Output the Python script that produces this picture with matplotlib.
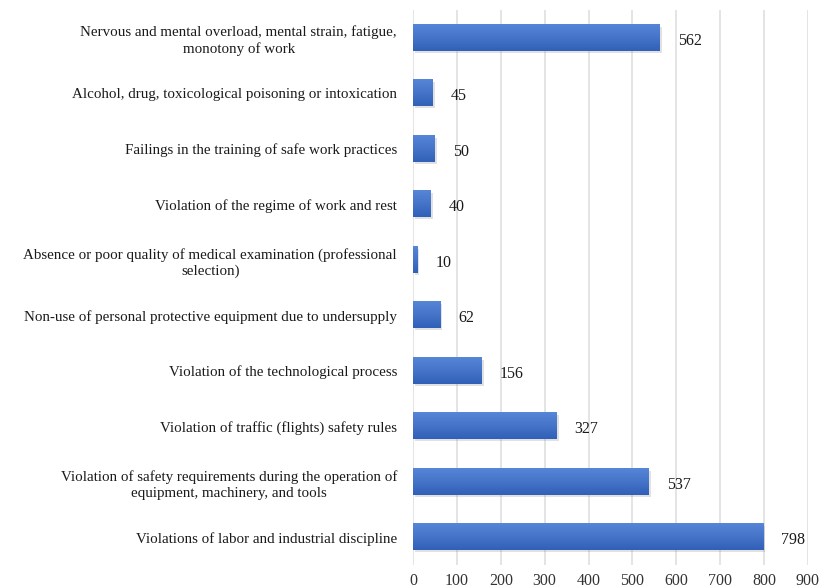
import numpy as np
import matplotlib.pyplot as plt
import matplotlib.patheffects as pe
from matplotlib.colors import LinearSegmentedColormap

# causes listed from top to bottom as in the chart
causes = [
    "Nervous and mental overload, mental strain, fatigue,\nmonotony of work",
    "Alcohol, drug, toxicological poisoning or intoxication",
    "Failings in the training of safe work practices",
    "Violation of the regime of work and rest",
    "Absence or poor quality of medical examination (professional\nselection)",
    "Non-use of personal protective equipment due to undersupply",
    "Violation of the technological process",
    "Violation of traffic (flights) safety rules",
    "Violation of safety requirements during the operation of\nequipment, machinery, and tools",
    "Violations of labor and industrial discipline",
]
counts = [562, 45, 50, 40, 10, 62, 156, 327, 537, 798]
xticks = [0, 100, 200, 300, 400, 500, 600, 700, 800, 900]

plt.rcParams['font.family'] = ['Liberation Serif', 'DejaVu Serif']
fs = 11.5

fig = plt.figure(figsize=(8.19, 5.88), dpi=100)
ax = fig.add_axes([413 / 819, 23 / 588, 395 / 819, 555 / 588])

y = np.arange(len(counts))
h = 0.47
bars = ax.barh(y, counts, height=h, color='#4472c4', zorder=2,
               path_effects=[pe.SimplePatchShadow(offset=(1.5, -1.5), shadow_rgbFace='#888888', alpha=0.25),
                             pe.Normal()])

# gradient fill like the excel bars, lighter at the top
cm = LinearSegmentedColormap.from_list('bar', ['#5686d8', '#4574c8', '#3060b8'])
grad = np.linspace(0, 1, 64).reshape(-1, 1)
for yi, v in zip(y, counts):
    ax.imshow(grad, extent=(0, v, yi - h / 2, yi + h / 2), origin='lower',
              cmap=cm, aspect='auto', zorder=3, interpolation='bilinear')

for yi, v in zip(y, counts):
    ax.annotate(str(v), (v, yi), xytext=(13, -2), textcoords='offset points',
                ha='left', va='center', fontsize=fs, color='#1a1a1a')

ax.set_xlim(0, 900)
ax.set_ylim(len(counts) - 0.5, -0.5)
ax.set_xticks(xticks)
ax.set_yticks(y)
ax.set_yticklabels(causes, fontsize=10.8, multialignment='center', color='#1a1a1a',
                   linespacing=1.3)
ax.tick_params(axis='y', length=0, pad=11.5)
ax.tick_params(axis='x', length=0, pad=6, labelsize=fs, labelcolor='#333333')
ax.grid(axis='x', color='#dddddd', linewidth=1.1, zorder=0)
for s in ax.spines.values():
    s.set_visible(False)

plt.savefig('out.png', dpi=100)
